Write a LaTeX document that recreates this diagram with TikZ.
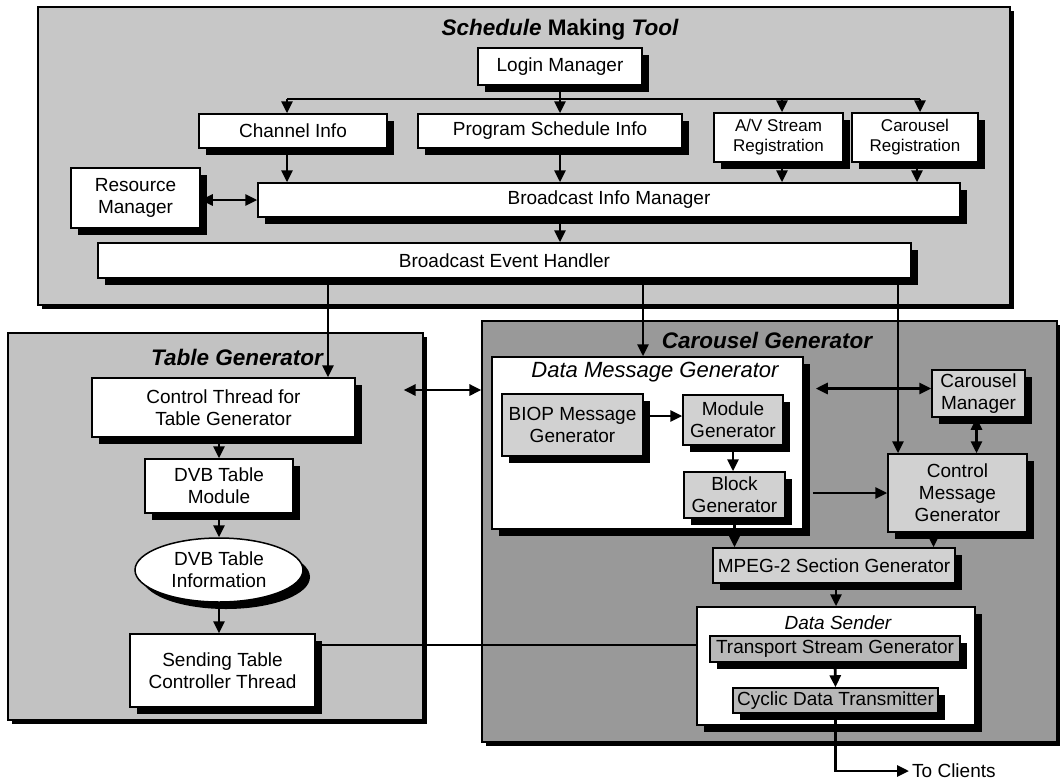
\documentclass[tikz,border=0pt]{standalone}
\usepackage{fontspec}
\setmainfont{Liberation Sans}
\usetikzlibrary{shapes.geometric,shadows,arrows.meta}
\newcommand\fbig{\fontsize{19}{22}\selectfont}
\newcommand\fsmall{\fontsize{17}{20}\selectfont}
\newcommand\ftitle{\fontsize{22.5}{26}\selectfont\bfseries\itshape}
\definecolor{topfill}{gray}{0.78}
\definecolor{tabfill}{gray}{0.76}
\definecolor{carfill}{gray}{0.60}
\definecolor{innerfill}{gray}{0.82}
\definecolor{darkinner}{gray}{0.72}
\begin{document}
\begin{tikzpicture}[x=1pt,y=-1pt,
  panel/.style={draw=black, line width=1.2pt, drop shadow={shadow xshift=4pt, shadow yshift=-4pt, fill=black, opacity=1}},
  box/.style={draw=black, line width=1.5pt, fill=white, align=center, inner sep=1pt, font=\fbig,
     drop shadow={shadow xshift=7pt, shadow yshift=-7pt, fill=black, opacity=1}},
  sbox/.style={box, font=\fsmall},
  gbox/.style={box, fill=innerfill},
  dbox/.style={box, fill=darkinner},
  frame/.style={draw=black, line width=1.5pt, fill=white,
     drop shadow={shadow xshift=7pt, shadow yshift=-7pt, fill=black, opacity=1}},
  ttl/.style={font=\ftitle, inner sep=0pt},
  arr/.style={line width=2.8pt, -{Triangle[length=12pt,width=11pt]}},
  biarr/.style={line width=2.8pt, {Triangle[length=12pt,width=11pt]}-{Triangle[length=12pt,width=11pt]}},
  ln/.style={line width=2.8pt}
]
\useasboundingbox (0,0) rectangle (1060,782);

% ---------- panels ----------
\node[panel, fill=topfill, minimum width=972pt, minimum height=298pt] (tp) at (524,156) {};
\node[panel, fill=tabfill, minimum width=415pt, minimum height=387pt] (tgp) at (215.5,526.5) {};
\node[panel, fill=carfill, minimum width=575pt, minimum height=421pt] (cgp) at (769.5,531.5) {};

% ---------- Schedule Making Tool ----------
\node[ttl] (tpt) at (560,30) {Schedule \textup{Making} Tool};
\node[box, minimum width=164pt, minimum height=37pt] (login) at (560,66.5) {Login Manager};
\node[box, minimum width=188pt, minimum height=34pt] (chan) at (293,131) {Channel Info};
\node[box, minimum width=264pt, minimum height=34pt] (prog) at (550,131) {Program Schedule Info};
\node[sbox, minimum width=129pt, minimum height=49pt] (av) at (778.5,137.5) {A/V Stream\\Registration};
\node[sbox, minimum width=126pt, minimum height=49pt] (creg) at (915,137.5) {Carousel\\Registration};
\node[box, minimum width=702pt, minimum height=34pt] (bim) at (609,200) {Broadcast Info Manager};
\node[box, minimum width=129pt, minimum height=60pt] (res) at (135.5,198) {Resource\\Manager};
\node[box, minimum width=813pt, minimum height=35pt] (beh) at (504.5,260.5) {Broadcast Event Handler};

% ---------- Table Generator ----------
\node[ttl] (tgt) at (237,357) {Table Generator};
\node[box, minimum width=263pt, minimum height=59pt] (ctrl) at (223.5,407.5) {Control Thread for\\Table Generator};
\node[box, minimum width=148pt, minimum height=54pt] (dvbm) at (219,486) {DVB Table\\Module};
\node[box, ellipse, inner sep=0pt, minimum width=168pt, minimum height=64pt] (dvbi) at (219,570) {DVB Table\\Information};
\node[box, minimum width=185pt, minimum height=73pt] (stc) at (222.5,670.5) {Sending Table\\Controller Thread};

% ---------- Carousel Generator ----------
\node[ttl] (cgt) at (767,340) {Carousel Generator};
\node[frame, minimum width=311pt, minimum height=172pt] (dmg) at (647.5,443) {};
\node[font=\fontsize{22}{26}\selectfont\itshape, inner sep=0pt] (dmgt) at (655,372) {Data Message Generator};
\node[gbox, minimum width=141pt, minimum height=62pt] (biop) at (572.5,425) {BIOP Message\\Generator};
\node[gbox, minimum width=100pt, minimum height=50pt] (modg) at (733,420) {Module\\Generator};
\node[gbox, minimum width=101pt, minimum height=46pt] (blkg) at (734.5,495) {Block\\Generator};
\node[gbox, minimum width=93pt, minimum height=47pt] (cman) at (978.5,393.5) {Carousel\\Manager};
\node[gbox, minimum width=139pt, minimum height=78pt] (cmg) at (957.5,493) {Control\\Message\\Generator};
\node[gbox, minimum width=242pt, minimum height=35pt] (mpeg) at (834,565.5) {MPEG-2 Section Generator};
\node[frame, minimum width=278pt, minimum height=118pt] (ds) at (836,666) {};
\node[font=\fbig\itshape, inner sep=0pt] (dst) at (838,623) {Data Sender};
\node[dbox, minimum width=250pt, minimum height=26pt] (tsg) at (835,649) {Transport Stream Generator};
\node[dbox, minimum width=205pt, minimum height=25pt] (cdt) at (835.5,700.5) {Cyclic Data Transmitter};
\node[font=\fbig, anchor=west, inner sep=3pt] (clients) at (909,771) {To Clients};

% ---------- connectors: top ----------
\coordinate (busL) at (287,99);
\coordinate (busAV) at (782,99);
\coordinate (busR) at (920,99);
\draw[ln] (login.south) -- (login.south |- busL);
\draw[ln] (busL) -- (busR);
\draw[arr] (busL) -- (busL |- chan.north);
\draw[arr] (login.south |- busL) -- (login.south |- prog.north);
\draw[arr] (busAV) -- (busAV |- av.north);
\draw[arr] (busR) -- (busR |- creg.north);
\draw[arr] (busL |- chan.south) -- (busL |- bim.north);
\draw[arr] (login.south |- prog.south) -- (login.south |- bim.north);
\draw[arr] (busAV |- av.south) -- (busAV |- bim.north);
\draw[arr] ([xshift=-3pt]busR |- creg.south) -- ([xshift=-3pt]busR |- bim.north);
\draw[biarr] (res.east |- bim.west) -- (bim.west);
\draw[arr] (login.south |- bim.south) -- (login.south |- beh.north);

% ---------- connectors: to lower panels ----------
\coordinate (d1) at (328,290);
\coordinate (d2) at (643,290);
\coordinate (d3) at (898,290);
\draw[arr] (d1 |- beh.south) -- (d1 |- ctrl.north);
\draw[arr] (d2 |- beh.south) -- (d2 |- dmg.north);
\draw[arr] (d3 |- beh.south) -- (d3 |- cmg.north);
\coordinate (mid) at (450,390);
\draw[biarr] ([xshift=-20pt]tgp.east |- mid) -- (cgp.west |- mid);

% ---------- table generator ----------
\draw[arr] (ctrl.south -| dvbm.north) -- (dvbm.north);
\draw[arr] (dvbm.south) -- (dvbi.north);
\draw[arr] (dvbi.south) -- (dvbi.south |- stc.north);
\coordinate (tsl) at (500,645);
\draw[ln] (stc.east |- tsl) -- (ds.west |- tsl);

% ---------- carousel generator ----------
\draw[arr] ([yshift=4pt]biop.east |- modg.west) -- ([yshift=4pt]modg.west);
\draw[arr] (modg.south) -- (modg.south |- blkg.north);
\draw[biarr] ([xshift=12pt, yshift=5pt]dmg.east |- cman.west) -- ([yshift=5pt]cman.west);
\draw[biarr] ([xshift=-2pt]cman.south) -- ([xshift=-2pt]cman.south |- cmg.north);
\draw[arr] ([xshift=9pt]dmg.east |- cmg.west) -- (cmg.west);
\draw[arr] (blkg.south) -- (blkg.south |- mpeg.north);
\draw[arr] ([xshift=-24pt]cmg.south) -- ([xshift=-24pt]cmg.south |- mpeg.north);
\draw[arr] (mpeg.south -| ds.north) -- (ds.north);
\draw[arr] (tsg.south) -- (cdt.north);
\draw[arr] (cdt.south) |- (clients.west);
\end{tikzpicture}
\end{document}
